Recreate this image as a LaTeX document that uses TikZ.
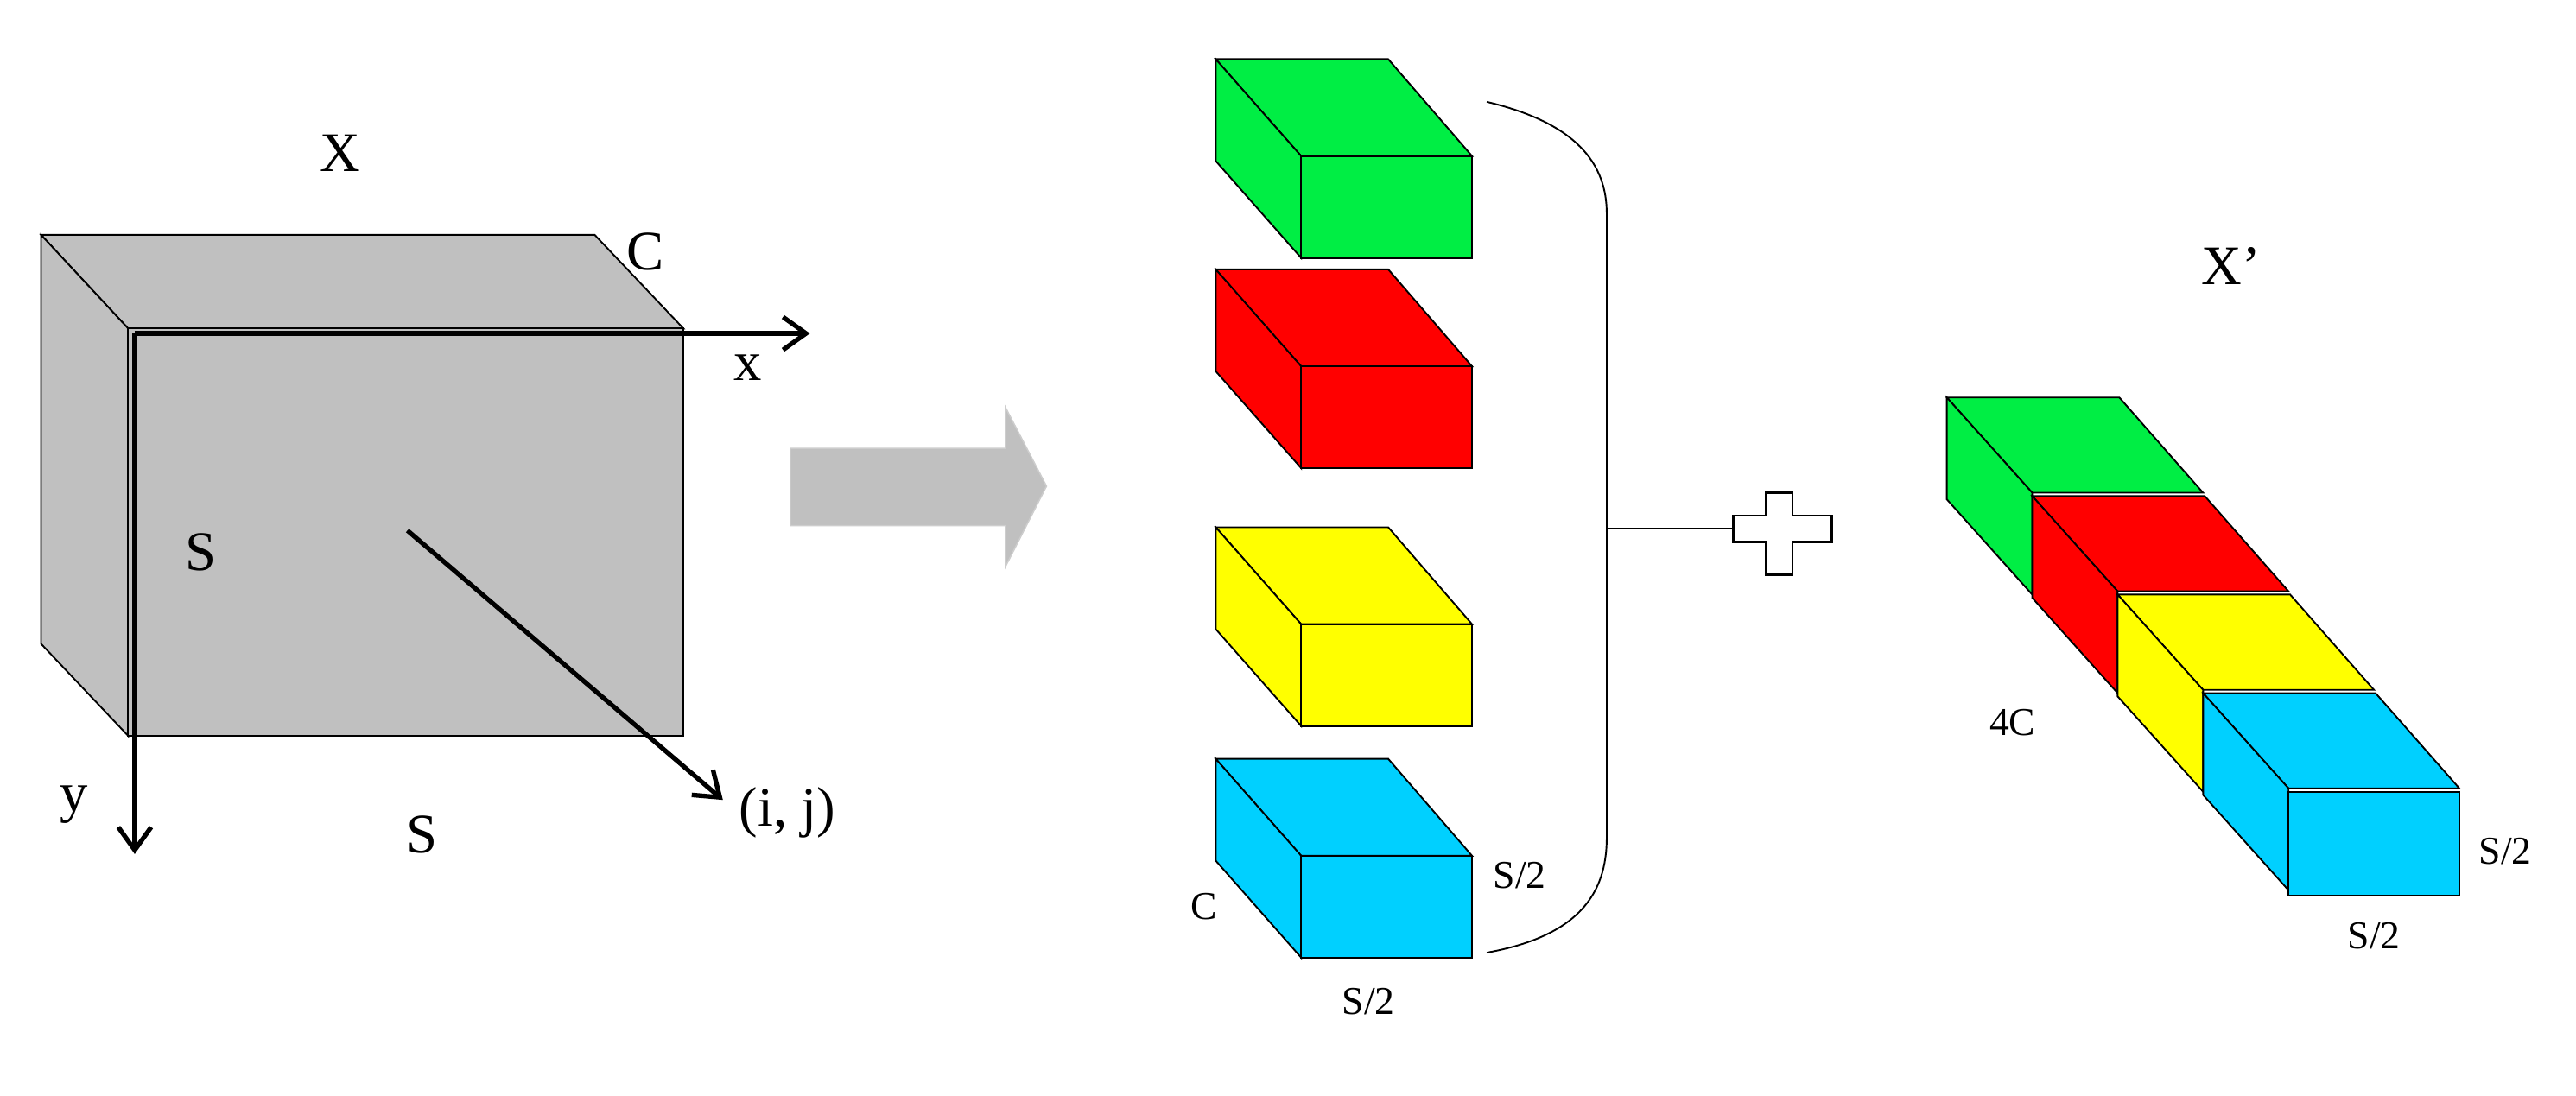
\documentclass[tikz,border=0pt]{standalone}
\usepackage{fontspec}
\usetikzlibrary{arrows.meta}
\setmainfont{Liberation Serif}
\definecolor{gbox}{RGB}{192,192,192}
\definecolor{bgreen}{RGB}{0,238,68}
\definecolor{bred}{RGB}{255,0,0}
\definecolor{byellow}{RGB}{255,255,0}
\definecolor{bcyan}{RGB}{0,208,255}
\begin{document}
\begin{tikzpicture}[x=0.5pt,y=-0.5pt,
  lbl/.style={font=\fontsize{17}{19}\selectfont},
  slbl/.style={font=\fontsize{12}{14}\selectfont},
  face/.style={draw=black,line width=0.5pt},
  ax/.style={line width=1.4pt,-{Straight Barb[length=7pt,width=10pt]}}]
\useasboundingbox (0,0) rectangle (1568,667);
% gray cube
\fill[gbox,face] (25,143)--(362,143)--(416,200)--(78,200)--cycle;
\fill[gbox,face] (25,143)--(78,200)--(78,448)--(25,392)--cycle;
\fill[gbox,face] (78,200) rectangle (416,448);
\coordinate (o) at (82,203);
\coordinate (xe) at (493,203);
\coordinate (ye) at (82,520);
\coordinate (d0) at (248,323);
\coordinate (d1) at (440,487);
\draw[ax] (o)--(xe);
\draw[ax] (o)--(ye);
\draw[ax] (d0)--(d1);
\node[lbl] (lX) at (207,93) {X};
\node[lbl] (lC) at (393,153) {C};
\node[lbl] (lx) at (455,224) {x};
\node[lbl] (lS1) at (122,336) {S};
\node[lbl] (ly) at (45,490) {y};
\node[lbl] (lS2) at (257,508) {S};
\node[lbl,anchor=west] (lij) at (443,495) {(i, j)};
% big arrow
\fill[gbox,draw=gbox!80!white] (481,273)--(612,273)--(612,248)--(637,296)--(612,345)--(612,320)--(481,320)--cycle;
% blocks
\foreach \c/\t in {bgreen/36,bred/164,byellow/321,bcyan/462}{
  \fill[\c,face] (740,\t)--(845,\t)--(896,\t+59)--(792,\t+59)--cycle;
  \fill[\c,face] (740,\t)--(792,\t+59)--(792,\t+121)--(740,\t+62)--cycle;
  \fill[\c,face] (792,\t+59) rectangle (896,\t+121);
}
\coordinate (b0) at (905,62);
\coordinate (b1) at (905,580);
\coordinate (bm) at (978,322);
\coordinate (pl) at (1055,322);
\draw[line width=0.5pt] (b0) .. controls (960,75) and (978,100) .. (978,130) -- (978,510) .. controls (978,545) and (960,570) .. (b1);
\draw[line width=0.5pt] (bm)--(pl);
\draw[line width=0.6pt,fill=white] (1075,300)--(1091,300)--(1091,314)--(1115,314)--(1115,330)--(1091,330)--(1091,350)--(1075,350)--(1075,330)--(1055,330)--(1055,314)--(1075,314)--cycle;
\node[slbl] (s1) at (925,533) {S/2};
\node[slbl] (s2) at (733,552) {C};
\node[slbl] (s3) at (833,610) {S/2};
% right stack
\node[lbl] (lXp) at (1358,162) {X'};
\foreach \c/\i in {bgreen/0,bred/1,byellow/2,bcyan/3}{
  \pgfmathsetmacro{\dx}{52*\i}\pgfmathsetmacro{\dy}{60*\i}
  \begin{scope}[shift={(\dx,\dy)}]
  \fill[\c,face] (1185,242)--(1290,242)--(1341,300)--(1237,300)--cycle;
  \fill[\c,face] (1185,242)--(1237,300)--(1237,362)--(1185,304)--cycle;
  \end{scope}
}
\fill[bcyan,face] (1393,482) rectangle (1497,545);
\node[slbl] (s4) at (1225,440) {4C};
\node[slbl] (s5) at (1525,518) {S/2};
\node[slbl] (s6) at (1445,570) {S/2};
\end{tikzpicture}
\end{document}
